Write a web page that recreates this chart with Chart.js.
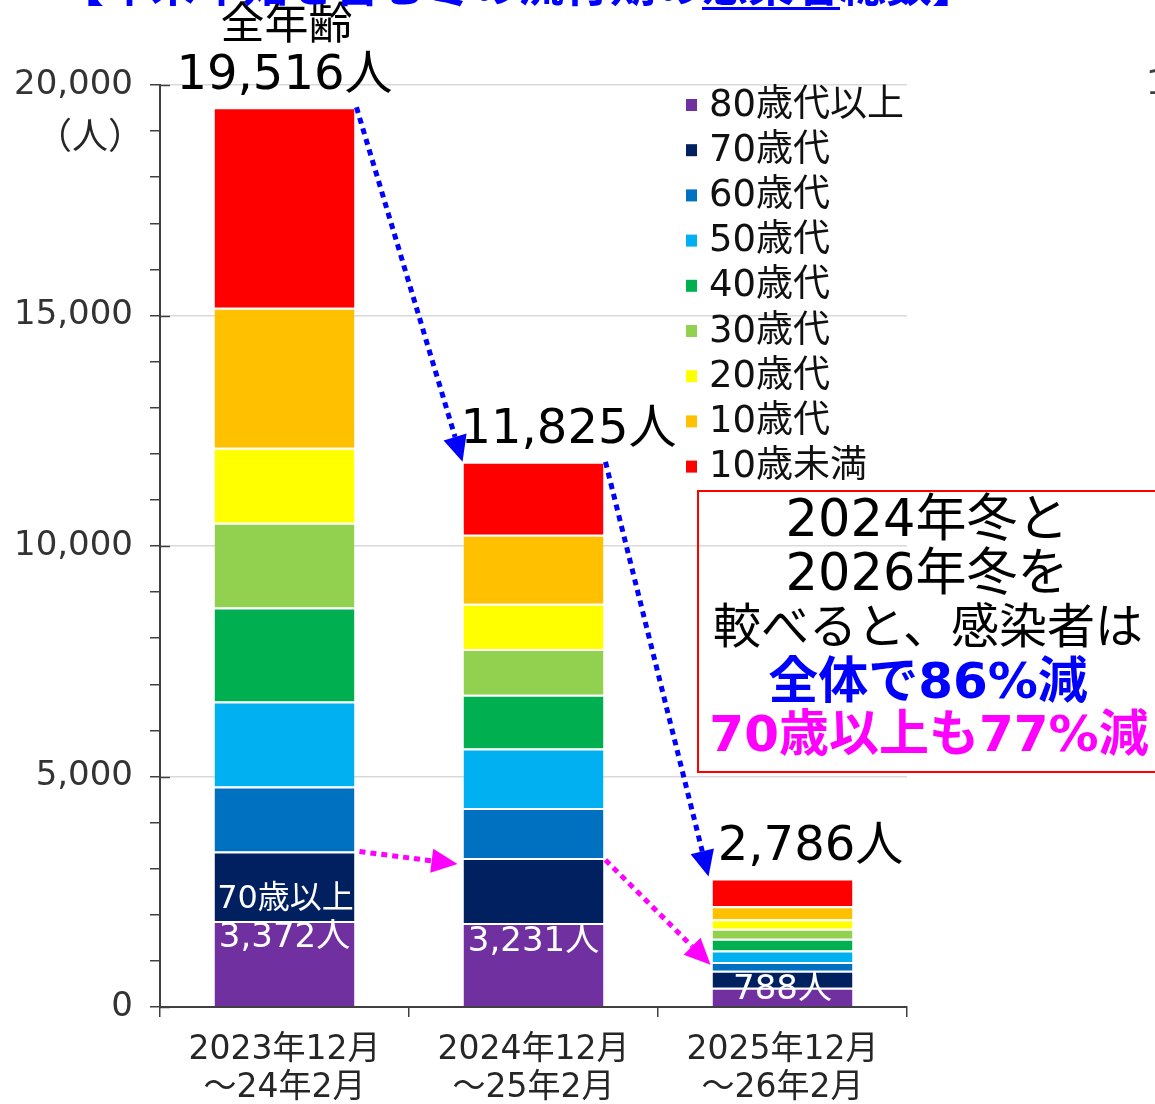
<!DOCTYPE html>
<html>
<head>
<meta charset="utf-8">
<script src="https://cdn.jsdelivr.net/npm/chart.js@4.4.1/dist/chart.umd.min.js"></script>
<style>
  html, body { margin: 0; padding: 0; background: #fff; }
  canvas { display: block; }
</style>
</head>
<body>
<canvas id="myChart" width="1155" height="1104"></canvas>
<script>
// categories (流行期)
var categories = [['2023年12月', '～24年2月'], ['2024年12月', '～25年2月'], ['2025年12月', '～26年2月']];
var ageGroups = ['80歳代以上', '70歳代', '60歳代', '50歳代', '40歳代', '30歳代', '20歳代', '10歳代', '10歳未満'];

// 年代別の感染者数 (下から積み上げ)
var age80plus = [1865, 1820, 420];
var age70s = [1507, 1411, 368];
var age60s = [1410, 1086, 190];
var age50s = [1843, 1288, 249];
var age40s = [2040, 1171, 256];
var age30s = [1837, 991, 217];
var age20s = [1627, 983, 206];
var age10s = [3037, 1492, 282];
var under10 = [4350, 1583, 598];

var totals = [19516, 11825, 2786];
var over70 = [3372, 3231, 788];
var yTicks = [0, 5000, 10000, 15000, 20000];

var colores = ['#7030A0', '#002060', '#0070C0', '#00B0F0', '#00B050', '#92D050', '#FFFF00', '#FFC000', '#FF0000'];
var series = [age80plus, age70s, age60s, age50s, age40s, age30s, age20s, age10s, under10];

var FONT = '"DejaVu Sans", "Noto Sans CJK JP", sans-serif';

function fmt(n) { return n.toLocaleString('en-US'); }

function seta(ctx, x1, y1, x2, y2, cor) {
  var ang = Math.atan2(y2 - y1, x2 - x1);
  var head = 26, hw = 12;
  var bx = x2 - Math.cos(ang) * head, by = y2 - Math.sin(ang) * head;
  ctx.save();
  ctx.strokeStyle = cor;
  ctx.lineWidth = 5;
  ctx.setLineDash([6, 5]);
  ctx.beginPath();
  ctx.moveTo(x1, y1);
  ctx.lineTo(bx, by);
  ctx.stroke();
  ctx.setLineDash([]);
  ctx.fillStyle = cor;
  ctx.beginPath();
  ctx.moveTo(x2, y2);
  ctx.lineTo(bx + Math.sin(ang) * hw, by - Math.cos(ang) * hw);
  ctx.lineTo(bx - Math.sin(ang) * hw, by + Math.cos(ang) * hw);
  ctx.closePath();
  ctx.fill();
  ctx.restore();
}

var anotacoes = {
  id: 'anotacoes',
  afterDatasetsDraw: function(chart) {
    var ctx = chart.ctx;
    var y = chart.scales.y;
    var area = chart.chartArea;
    var metaTop = chart.getDatasetMeta(8).data;
    var meta70 = chart.getDatasetMeta(1).data;
    var meta80 = chart.getDatasetMeta(0).data;

    // major ticks poking into the plot area
    ctx.save();
    ctx.strokeStyle = '#404040';
    ctx.lineWidth = 1.5;
    yTicks.forEach(function(v) {
      var py = Math.round(y.getPixelForValue(v)) + 0.5;
      ctx.beginPath();
      ctx.moveTo(area.left, py);
      ctx.lineTo(area.left + 10, py);
      ctx.stroke();
    });
    ctx.restore();

    function L(b) { return b.x - b.width / 2; }
    function R(b) { return b.x + b.width / 2; }

    // arrows
    seta(ctx, R(metaTop[0]) + 2, metaTop[0].y, L(metaTop[1]) - 1, metaTop[1].y, '#0000FF');
    seta(ctx, R(metaTop[1]) + 2, metaTop[1].y, L(metaTop[2]) - 4, metaTop[2].y - 2, '#0000FF');
    seta(ctx, R(meta70[0]) + 5, meta70[0].y, L(meta70[1]) - 6, meta70[1].y + 6, '#FF00FF');
    seta(ctx, R(meta70[1]) + 2, meta70[1].y + 2, L(meta70[2]) - 2, meta70[2].y - 6, '#FF00FF');

    ctx.save();
    ctx.textAlign = 'center';
    ctx.textBaseline = 'middle';
    ctx.fillStyle = '#000';
    ctx.font = '44px ' + FONT;
    ctx.fillText('全年齢', metaTop[0].x + 2, 28);
    ctx.font = '48px ' + FONT;
    var dx = [0, 35, 28];
    totals.forEach(function(t, i) {
      ctx.fillText(fmt(t) + '人', metaTop[i].x + dx[i], metaTop[i].y - 31);
    });

    ctx.fillStyle = '#fff';
    ctx.font = '32px ' + FONT;
    ctx.fillText('70歳以上', meta80[0].x + 1, meta80[0].y - 21);
    ctx.font = '34px ' + FONT;
    var oy = [17, 19, 3];
    over70.forEach(function(v, i) {
      ctx.fillText(fmt(v) + '人', meta80[i].x, meta80[i].y + oy[i]);
    });
    ctx.restore();
  },
  afterDraw: function(chart) {
    var ctx = chart.ctx;
    ctx.save();

    // clipped title at the very top
    ctx.fillStyle = '#0000FF';
    ctx.font = 'bold 46px ' + FONT;
    ctx.textBaseline = 'alphabetic';
    ctx.textAlign = 'left';
    var titulo1 = '【年末年始を含む冬の流行期の';
    var titulo2 = '感染者';
    var titulo3 = '総数】';
    var tx = 58;
    ctx.fillText(titulo1, tx, 1);
    var w1 = ctx.measureText(titulo1).width;
    ctx.fillText(titulo2, tx + w1, 1);
    var w2 = ctx.measureText(titulo2).width;
    ctx.fillRect(tx + w1, 7, w2, 3);
    ctx.fillText(titulo3, tx + w1 + w2, 1);

    // y axis unit
    ctx.fillStyle = '#262626';
    ctx.font = '36px "Noto Sans CJK JP", sans-serif';
    ctx.textAlign = 'center';
    ctx.textBaseline = 'middle';
    ctx.fillText('（人）', 90, 135);

    // piece of neighbouring chart at the right edge
    ctx.fillStyle = '#404040';
    ctx.font = '34px ' + FONT;
    ctx.textAlign = 'left';
    ctx.fillText('1', 1146, 85);

    // legend (top = 80歳代以上)
    ctx.font = '37px ' + FONT;
    ctx.textAlign = 'left';
    ctx.textBaseline = 'middle';
    chart.data.datasets.forEach(function(ds, i) {
      var ly = 105 + 45.2 * i;
      ctx.fillStyle = ds.backgroundColor;
      ctx.fillRect(686, ly - 6, 11, 12);
      ctx.fillStyle = '#111';
      ctx.fillText(ds.label, 709, ly + 1);
    });

    // comment box
    ctx.strokeStyle = '#FF0000';
    ctx.lineWidth = 2;
    ctx.strokeRect(698, 491, 470, 281);
    ctx.textAlign = 'center';
    ctx.fillStyle = '#000';
    ctx.font = '51px ' + FONT;
    ctx.fillText('2024年冬と', 927, 523);
    ctx.fillText('2026年冬を', 927, 577);
    ctx.font = '48px ' + FONT;
    ctx.fillText('較べると、感染者は', 928, 631);
    ctx.font = 'bold 50px ' + FONT;
    ctx.fillStyle = '#0000FF';
    ctx.fillText('全体で86%減', 928, 685);
    ctx.fillStyle = '#FF00FF';
    ctx.fillText('70歳以上も77%減', 929, 738);
    ctx.restore();
  }
};

var ctx = document.getElementById('myChart').getContext('2d');
var chart = new Chart(ctx, {
  type: 'bar',
  data: {
    labels: categories,
    datasets: series.map(function(d, i) {
      return {
        label: ageGroups[i],
        data: d,
        backgroundColor: colores[i],
        borderColor: '#ffffff',
        borderWidth: { top: 2, bottom: 0, left: 0, right: 0 },
        borderSkipped: false,
        barPercentage: 0.562,
        categoryPercentage: 1.0
      };
    })
  },
  plugins: [anotacoes],
  options: {
    responsive: false,
    animation: false,
    devicePixelRatio: 1,
    layout: { padding: { left: 0, top: 85, right: 248, bottom: 0 } },
    plugins: {
      legend: { display: false },
      tooltip: { enabled: false }
    },
    scales: {
      x: {
        stacked: true,
        grid: { offset: true, drawOnChartArea: false, tickLength: 10, color: '#404040', tickColor: '#404040', lineWidth: 1.5 },
        border: { color: '#404040', width: 2 },
        ticks: { color: '#262626', font: { size: 33, family: FONT, lineHeight: 1.15 }, padding: 14, maxRotation: 0 },
        afterFit: function(s) { s.height = 97; }
      },
      y: {
        stacked: true,
        min: 0,
        max: 20000,
        ticks: {
          stepSize: 1000,
          autoSkip: false,
          color: '#333',
          font: { size: 34, family: FONT },
          padding: 17,
          callback: function(v) { return v % 5000 === 0 ? fmt(v) : ''; }
        },
        grid: {
          color: function(c) { return (c.tick && c.tick.value % 5000 === 0 && c.tick.value > 0) ? '#d9d9d9' : 'rgba(0,0,0,0)'; },
          tickColor: '#404040',
          tickLength: 10,
          lineWidth: 1.5
        },
        border: { color: '#404040', width: 2 },
        afterFit: function(s) { s.width = 160; }
      }
    }
  }
});
</script>
</body>
</html>
